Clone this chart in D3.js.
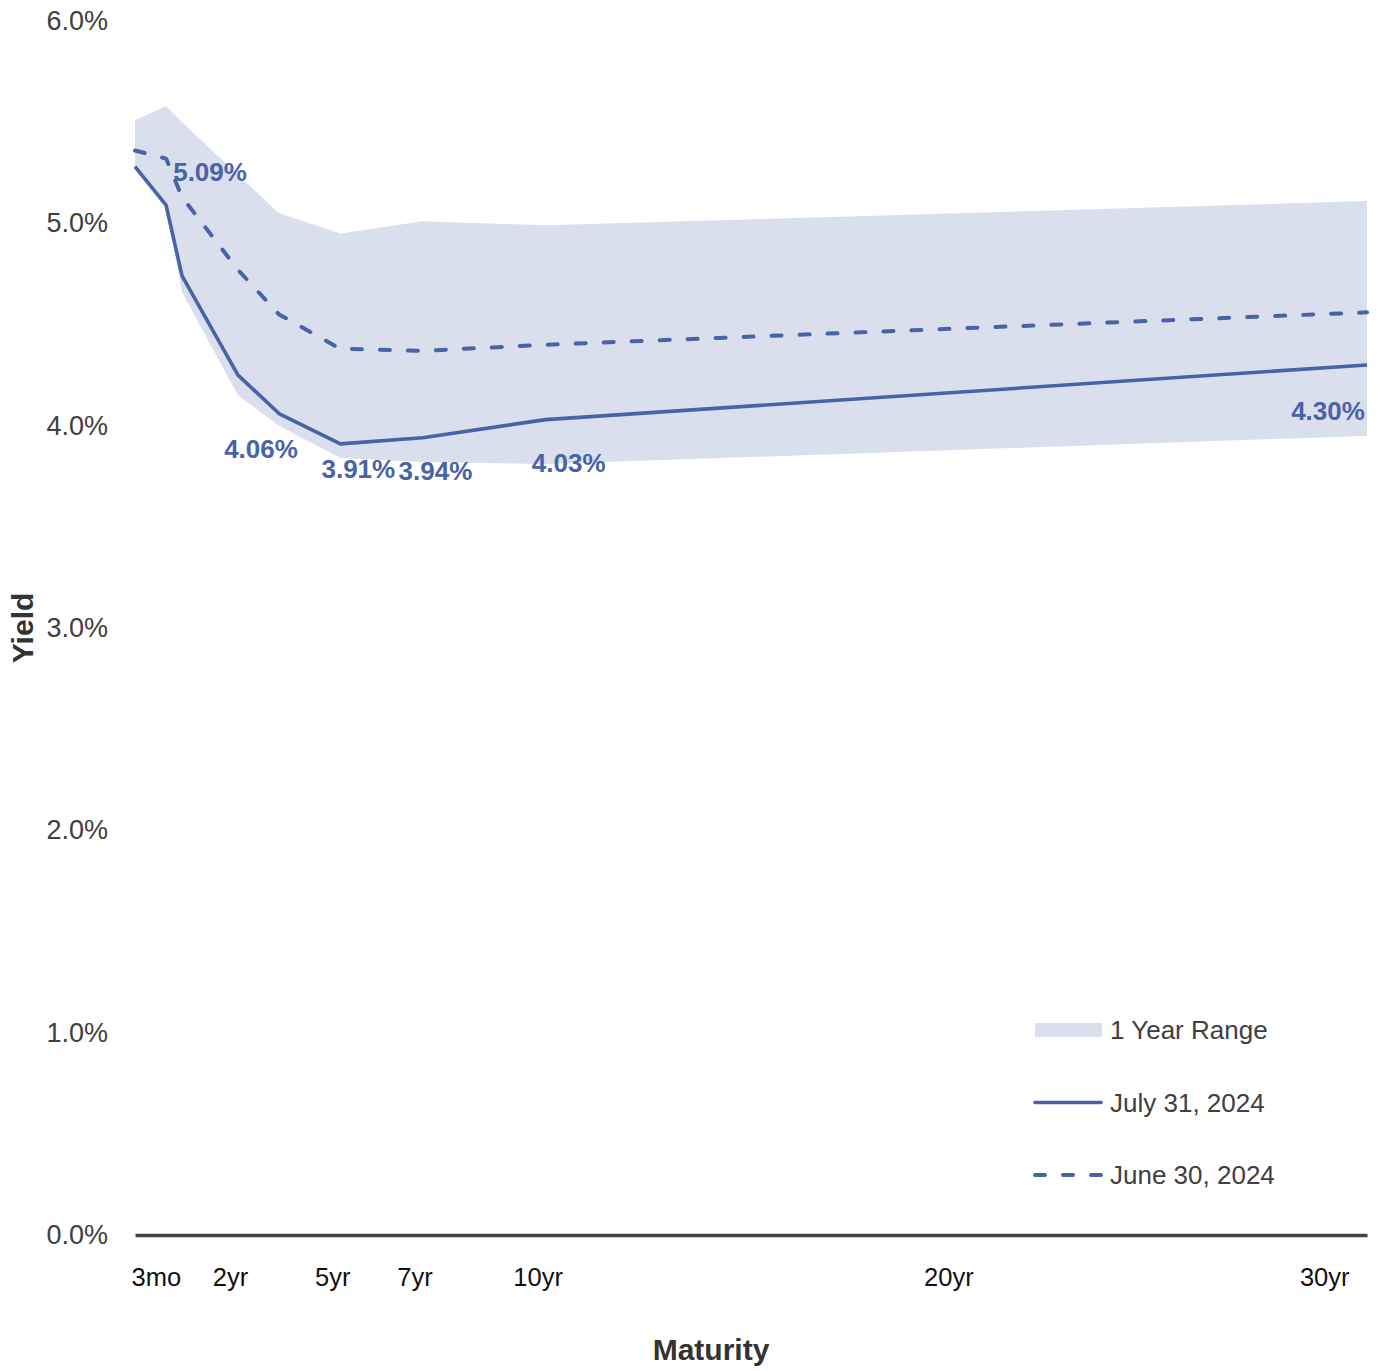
<!DOCTYPE html>
<html>
<head>
<meta charset="utf-8">
<script src="https://cdn.jsdelivr.net/npm/d3@7"></script>
<style>
  html, body { margin: 0; padding: 0; background: #fff; }
  svg { display: block; font-family: "Liberation Sans", Arial, Helvetica, sans-serif; }
</style>
</head>
<body>
<svg id="chart" width="1397" height="1371"></svg>
<script>
// Treasury maturities (years) at which the curve is sampled
const maturities = [0.25, 0.5, 1, 2, 3, 5, 7, 10, 30];

// Yields in percent
const july31 = [5.28, 5.09, 4.74, 4.25, 4.06, 3.91, 3.94, 4.03, 4.30];
const june30 = [5.36, 5.32, 5.13, 4.77, 4.55, 4.38, 4.37, 4.40, 4.56];
const rangeHigh = [5.51, 5.58, 5.50, 5.24, 5.05, 4.95, 5.01, 4.99, 5.11];
const rangeLow = [5.27, 5.08, 4.66, 4.15, 4.00, 3.84, 3.82, 3.81, 3.95];

// Maturities whose July 31 yield is labelled
const labelledMaturities = [0.5, 3, 5, 7, 10, 30];

// X axis ticks
const tickValues = [0.25, 2, 5, 7, 10, 20, 30];
const tickLabels = ["3mo", "2yr", "5yr", "7yr", "10yr", "20yr", "30yr"];

// Y axis ticks
const yTicks = [0, 1, 2, 3, 4, 5, 6];

// Legend entries
const legendItems = ["1 Year Range", "July 31, 2024", "June 30, 2024"];

// ---- layout ----
const W = 1397, H = 1371;
const plot = { left: 135, right: 1367, top: 21, bottom: 1235 };
const BLUE = "#4a62a6";
const BAND = "#dadfed";
const TEXT = "#404040";

// Short end of the curve is stretched; from 5yr on the axis is linear in years
const shortEndStops = [0.25, 0.5, 1, 2, 3, 5, 30];
const shortEndFrac = [0, 0.0252, 0.0382, 0.0836, 0.1169, 5 / 30, 1];
const plotW = plot.right - plot.left;
const x = d3.scaleLinear()
  .domain(shortEndStops)
  .range(shortEndFrac.map(f => plot.left + f * plotW));

const y = d3.scaleLinear().domain([0, 6]).range([plot.bottom, plot.top]);

const svg = d3.select("#chart");

const rows = maturities.map((m, i) => ({
  m, jul: july31[i], jun: june30[i], hi: rangeHigh[i], lo: rangeLow[i]
}));

// 1-year range band
svg.append("path")
  .datum(rows)
  .attr("fill", BAND)
  .attr("d", d3.area()
    .x(d => x(d.m))
    .y0(d => y(d.lo))
    .y1(d => y(d.hi)));

// June 30 curve (dashed)
svg.append("path")
  .datum(rows)
  .attr("fill", "none")
  .attr("stroke", BLUE)
  .attr("stroke-width", 4)
  .attr("stroke-linecap", "round")
  .attr("stroke-linejoin", "round")
  .attr("stroke-dasharray", "10 18")
  .attr("d", d3.line().x(d => x(d.m)).y(d => y(d.jun)));

// July 31 curve (solid)
svg.append("path")
  .datum(rows)
  .attr("fill", "none")
  .attr("stroke", BLUE)
  .attr("stroke-width", 3.6)
  .attr("stroke-linejoin", "round")
  .attr("d", d3.line().x(d => x(d.m)).y(d => y(d.jul)));

// Value labels on the July 31 curve, nudged clear of the line
const labelNudge = {
  0.5: [44, -33], 3: [-18, 35], 5: [18, 25],
  7: [13, 33], 10: [23, 43], 30: [-39, 46]
};
svg.append("g")
  .selectAll("text")
  .data(rows.filter(d => labelledMaturities.includes(d.m)))
  .join("text")
  .attr("x", d => x(d.m) + labelNudge[d.m][0])
  .attr("y", d => y(d.jul) + labelNudge[d.m][1])
  .attr("text-anchor", "middle")
  .attr("dominant-baseline", "central")
  .attr("fill", BLUE)
  .attr("font-size", 26)
  .attr("font-weight", "bold")
  .text(d => d.jul.toFixed(2) + "%");

// Y axis (labels only)
const yAxis = svg.append("g")
  .attr("transform", `translate(${plot.left},0)`)
  .call(d3.axisLeft(y).tickValues(yTicks).tickFormat(d => d.toFixed(1) + "%")
    .tickSize(0).tickPadding(27));
yAxis.select(".domain").remove();
yAxis.selectAll("text").attr("font-size", 27).attr("fill", TEXT)
  .attr("font-family", "Liberation Sans, Arial, sans-serif");

// X axis with zero baseline
const lastTick = tickValues.length - 1;
const xAxis = svg.append("g")
  .attr("transform", `translate(0,${y(0)})`)
  .call(d3.axisBottom(x).tickValues(tickValues)
    .tickFormat((d, i) => tickLabels[i])
    .tickSize(0).tickSizeOuter(0).tickPadding(33));
xAxis.select(".domain").attr("stroke", "#444").attr("stroke-width", 3.5);
xAxis.selectAll("text")
  .attr("font-size", 25.5)
  .attr("fill", "#111")
  .attr("font-family", "Liberation Sans, Arial, sans-serif")
  .attr("dx", (d, i) => i === 0 ? -4 : (i === lastTick ? -18 : -8))
  .attr("text-anchor", (d, i) => i === 0 ? "start" : (i === lastTick ? "end" : "middle"));

// Axis titles
svg.append("text")
  .attr("transform", `translate(33,${(plot.top + plot.bottom) / 2}) rotate(-90)`)
  .attr("text-anchor", "middle")
  .attr("font-size", 30).attr("font-weight", "bold").attr("fill", "#333")
  .text("Yield");

svg.append("text")
  .attr("x", 711).attr("y", 1360)
  .attr("text-anchor", "middle")
  .attr("font-size", 30).attr("font-weight", "bold").attr("fill", "#333")
  .text("Maturity");

// Legend
const legend = svg.append("g").attr("transform", "translate(1033,1030)");
const rowGap = 72.5;
legendItems.forEach((label, i) => {
  const g = legend.append("g").attr("transform", `translate(0,${i * rowGap})`);
  if (i === 0) {
    g.append("rect").attr("x", 2).attr("y", -7).attr("width", 67).attr("height", 14).attr("fill", BAND);
  } else {
    g.append("line")
      .attr("x1", 2).attr("x2", 68).attr("y1", 0).attr("y2", 0)
      .attr("stroke", BLUE)
      .attr("stroke-width", i === 1 ? 3.6 : 4)
      .attr("stroke-linecap", "round")
      .attr("stroke-dasharray", i === 2 ? "10 18" : null);
  }
  g.append("text")
    .attr("x", 77).attr("y", 0)
    .attr("dominant-baseline", "central")
    .attr("font-size", 26).attr("fill", TEXT)
    .text(label);
});
</script>
</body>
</html>
